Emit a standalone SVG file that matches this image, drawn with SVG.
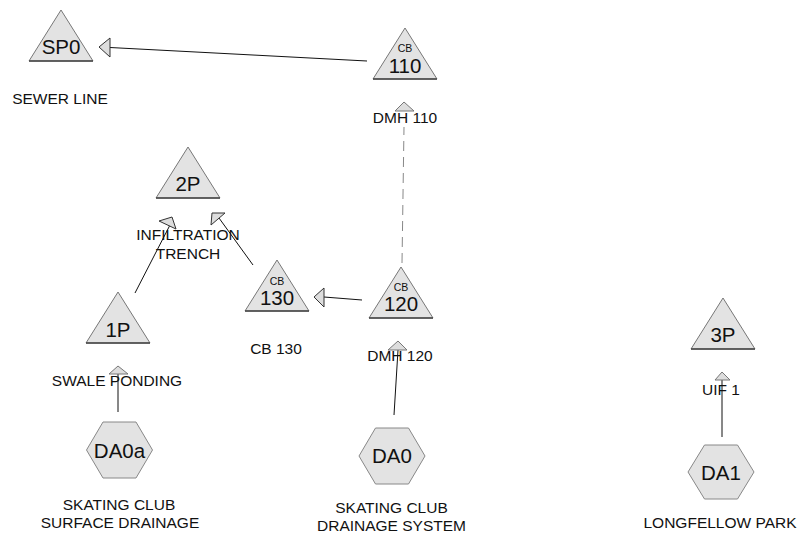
<svg xmlns="http://www.w3.org/2000/svg" width="803" height="538" viewBox="0 0 803 538">
<style>
.bg{fill:#fff}
.tri{fill:#e3e3e3;stroke:#777;stroke-width:1}
.base{stroke:#444;stroke-width:1.5}
.hex{fill:#e3e3e3;stroke:#888;stroke-width:1}
.big{font-family:"Liberation Sans",Arial,sans-serif;font-size:20.5px;fill:#111;text-anchor:middle}
.cb{font-family:"Liberation Sans",Arial,sans-serif;font-size:10.5px;fill:#111;text-anchor:middle}
.lbl{font-family:"Liberation Sans",Arial,sans-serif;font-size:15.5px;fill:#111;text-anchor:middle}
.ln{stroke:#111;stroke-width:1;fill:none}
.dash{stroke:#888;stroke-width:1;stroke-dasharray:10,6;fill:none}
.ah{fill:#ddd;stroke:#333;stroke-width:1}
.ah2{fill:#ddd;stroke:#777;stroke-width:1}
</style>
<rect class="bg" x="0" y="0" width="803" height="538"/>
<g id="connectors">
  <line class="ln" x1="367" y1="61" x2="110" y2="47.5"/>
  <polygon class="ah" points="99,47 110,38 110,57"/>
  <line class="dash" x1="402" y1="263" x2="404" y2="127"/>
  <polygon class="ah2" points="404,102 395,111 414,111"/>
  <line class="ln" x1="362" y1="300" x2="324" y2="297"/>
  <polygon class="ah" points="314,297 324,288 324,307"/>
  <line class="ln" x1="253" y1="265" x2="219" y2="218"/>
  <polygon class="ah" points="211,225 212,213 225,213"/>
  <line class="ln" x1="135" y1="293" x2="170" y2="225"/>
  <polygon class="ah" points="159,221 172,217 176,229"/>
  <line class="ln" x1="118" y1="412" x2="118" y2="374"/>
  <polygon class="ah2" points="118,366 109,374 128,374"/>
  <line class="ln" x1="394" y1="415" x2="398" y2="350"/>
  <polygon class="ah2" points="398,341 388,350 407,350"/>
  <line class="ln" x1="722" y1="437" x2="722" y2="380"/>
  <polygon class="ah2" points="722,372 715,380 730,380"/>
</g>
<g id="SP0">
  <polygon class="tri" points="61,10 93,61 29,61"/>
  <line class="base" x1="29" y1="61" x2="93" y2="61"/>
  <text class="big" x="61" y="54">SP0</text>
  <text class="lbl" x="60" y="104">SEWER LINE</text>
</g>
<g id="CB110">
  <polygon class="tri" points="405,28 437,79 373,79"/>
  <line class="base" x1="373" y1="79" x2="437" y2="79"/>
  <text class="cb" x="405" y="52">CB</text>
  <text class="big" x="405" y="73">110</text>
  <text class="lbl" x="405" y="123">DMH 110</text>
</g>
<g id="P2">
  <polygon class="tri" points="188,147 220,198 156,198"/>
  <line class="base" x1="156" y1="198" x2="220" y2="198"/>
  <text class="big" x="188" y="191">2P</text>
  <text class="lbl" x="188" y="240">INFILTRATION</text>
  <text class="lbl" x="188" y="259">TRENCH</text>
</g>
<g id="CB130">
  <polygon class="tri" points="277,260 309,311 245,311"/>
  <line class="base" x1="245" y1="311" x2="309" y2="311"/>
  <text class="cb" x="277" y="285">CB</text>
  <text class="big" x="277" y="305">130</text>
  <text class="lbl" x="276" y="354">CB 130</text>
</g>
<g id="CB120">
  <polygon class="tri" points="401,267 433,318 369,318"/>
  <line class="base" x1="369" y1="318" x2="433" y2="318"/>
  <text class="cb" x="401" y="291">CB</text>
  <text class="big" x="401" y="311">120</text>
  <text class="lbl" x="400" y="361">DMH 120</text>
</g>
<g id="P1">
  <polygon class="tri" points="118,292 150,343 86,343"/>
  <line class="base" x1="86" y1="343" x2="150" y2="343"/>
  <text class="big" x="118" y="337">1P</text>
  <text class="lbl" x="117" y="386">SWALE PONDING</text>
</g>
<g id="P3">
  <polygon class="tri" points="723,298 755,349 691,349"/>
  <line class="base" x1="691" y1="349" x2="755" y2="349"/>
  <text class="big" x="723" y="342">3P</text>
  <text class="lbl" x="721" y="395">UIF 1</text>
</g>
<g id="DA0a">
  <polygon class="hex" points="86.5,450 103,422 136,422 152.5,450 136,478 103,478"/>
  <text class="big" x="119.5" y="458">DA0a</text>
  <text class="lbl" x="119" y="510">SKATING CLUB</text>
  <text class="lbl" x="120" y="528">SURFACE DRAINAGE</text>
</g>
<g id="DA0">
  <polygon class="hex" points="359,456 375.5,428 408.5,428 425,456 408.5,484 375.5,484"/>
  <text class="big" x="392" y="463">DA0</text>
  <text class="lbl" x="391.5" y="513">SKATING CLUB</text>
  <text class="lbl" x="391.5" y="531">DRAINAGE SYSTEM</text>
</g>
<g id="DA1">
  <polygon class="hex" points="688,472 704.5,445 737.5,445 754,472 737.5,499 704.5,499"/>
  <text class="big" x="721" y="480">DA1</text>
  <text class="lbl" x="720" y="528">LONGFELLOW PARK</text>
</g>
</svg>
